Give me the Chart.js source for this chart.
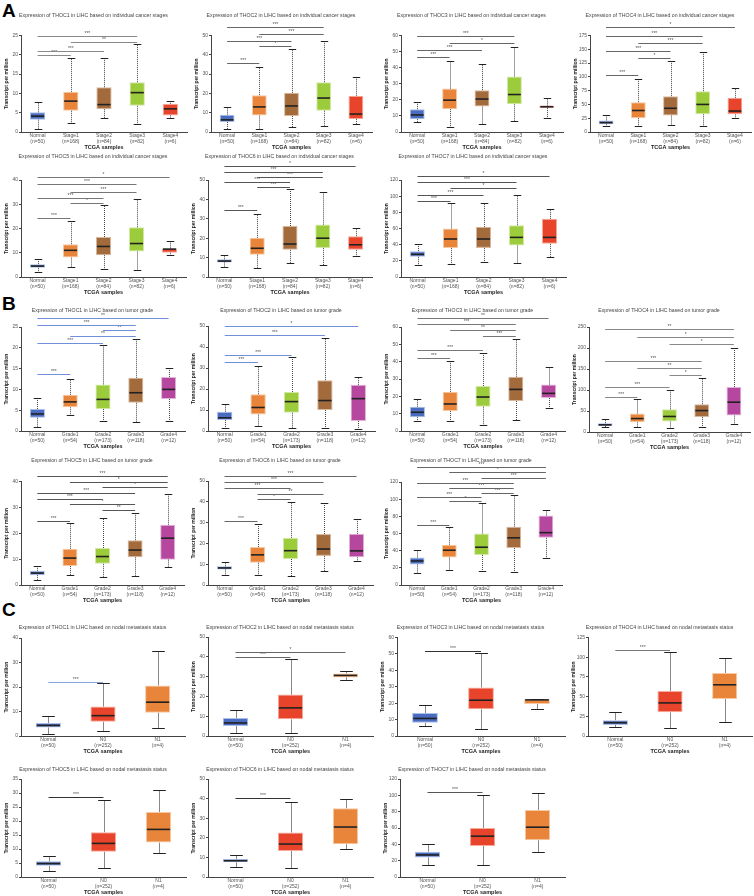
<!DOCTYPE html>
<html lang="en">
<head>
<meta charset="UTF-8">
<title>THOC expression in LIHC</title>
<script src="https://cdn.jsdelivr.net/npm/chart.js@4.4.1/dist/chart.umd.min.js"></script>
<style>
  body { margin: 0; background: #fff; }
  #page { position: relative; width: 754px; height: 896px; overflow: hidden; }
  #page canvas { position: absolute; }
  .tag { position: absolute; font: bold 19px 'Liberation Sans', Arial, sans-serif; line-height: 19px; color: #000; }
</style>
</head>
<body>
<div id="page">
  <div class="tag" style="left:2px;top:1px">A</div>
  <div class="tag" style="left:2px;top:294px">B</div>
  <div class="tag" style="left:2px;top:600px">C</div>
</div>
<script>
// ---- data ----
const genes = ['THOC1', 'THOC2', 'THOC3', 'THOC4', 'THOC5', 'THOC6', 'THOC7'];

// A: individual cancer stages
const stageLabels = [['Normal', '(n=50)'], ['Stage1', '(n=168)'], ['Stage2', '(n=84)'], ['Stage3', '(n=82)'], ['Stage4', '(n=6)']];
const stageYMax = [25, 50, 60, 175, 40, 50, 120];
const stageYStep = [5, 10, 10, 25, 10, 10, 20];
const stageMin = [
  [0.9, 2.3, 3.5, 2.2, 3.5],
  [1.5, 1.5, 2.4, 3.2, 4.0],
  [6.0, 3.2, 5.0, 6.8, 8.5],
  [11, 10, 13, 10, 25],
  [2.0, 4.0, 3.5, 3.0, 9.0],
  [5.0, 4.5, 7.2, 6.0, 11.0],
  [15, 16, 18, 17, 25]
];
const stageQ1 = [
  [3.2, 5.5, 5.9, 6.8, 4.3],
  [5.2, 8.5, 8.3, 11.0, 6.8],
  [8.0, 14.2, 15.8, 17.2, 15.0],
  [14, 25, 30, 32, 32],
  [3.8, 8.0, 9.0, 10.5, 10.0],
  [7.5, 11.5, 14.0, 15.0, 14.0],
  [25, 36, 36, 39, 41]
];
const stageMedian = [
  [4.1, 8.0, 7.1, 10.2, 6.0],
  [6.3, 13.0, 13.5, 17.6, 9.3],
  [10.6, 19.8, 20.5, 23.3, 15.7],
  [17, 39, 43, 50, 38],
  [4.5, 11.0, 12.6, 13.8, 11.5],
  [8.2, 14.8, 17.0, 20.0, 16.6],
  [28, 47, 47, 49, 49]
];
const stageQ3 = [
  [5.1, 10.4, 11.6, 12.9, 7.3],
  [9.0, 19.1, 20.3, 25.8, 18.8],
  [14.2, 27.0, 26.0, 34.5, 16.4],
  [21, 54, 65, 74, 62],
  [5.3, 13.5, 16.5, 20.5, 11.8],
  [9.1, 20.2, 26.3, 27.0, 21.0],
  [32, 60, 62, 64, 72]
];
const stageMax = [
  [7.9, 19.1, 19.3, 22.9, 8.1],
  [13.0, 33.6, 42.8, 47.1, 28.7],
  [18.8, 44.3, 42.3, 52.6, 21.0],
  [30, 97, 128, 145, 80],
  [7.3, 23.2, 29.8, 32.3, 14.8],
  [11.2, 32.6, 45.5, 43.6, 25.4],
  [40.5, 91.5, 91.5, 102, 84]
];
// [from group, to group, value, label]
const stageSig = [
  [[0, 1, 19.9, '***'], [0, 2, 21.0, '***'], [1, 3, 23.3, '**'], [0, 3, 24.8, '***']],
  [[0, 1, 35.5, '***'], [1, 2, 44.6, '*'], [0, 2, 47.2, '***'], [1, 3, 51.0, '***'], [0, 3, 54.4, '***']],
  [[0, 1, 46.8, '***'], [0, 2, 51.0, '***'], [1, 3, 55.6, '*'], [0, 3, 60.0, '***']],
  [[0, 1, 103, '***'], [1, 2, 133.5, '*'], [0, 2, 147, '***'], [1, 3, 161, '***'], [0, 3, 175, '***'], [0, 4, 189.6, '*']],
  [[0, 1, 24.3, '***'], [1, 2, 30.6, '*'], [0, 2, 32.7, '***'], [1, 3, 35.2, '***'], [0, 3, 38.2, '***'], [0, 4, 41.4, '*']],
  [[0, 1, 34.7, '***'], [1, 2, 46.6, '***'], [0, 2, 49.1, '***'], [1, 3, 51.7, '***'], [0, 3, 54.3, '***'], [0, 4, 57.2, '*']],
  [[0, 1, 94.4, '***'], [0, 2, 101, '***'], [1, 3, 109.7, '*'], [0, 3, 117, '***'], [0, 4, 125, '*']]
];

// B: tumor grade
const gradeLabels = [['Normal', '(n=50)'], ['Grade1', '(n=54)'], ['Grade2', '(n=173)'], ['Grade3', '(n=118)'], ['Grade4', '(n=12)']];
const gradeYMax = [25, 50, 60, 250, 40, 50, 120];
const gradeYStep = [5, 10, 10, 50, 10, 10, 20];
const gradeMin = [
  [0.9, 3.8, 2.3, 2.1, 2.3],
  [1.3, 2.5, 1.2, 1.5, 1.0],
  [5.6, 5.6, 3.3, 6.5, 13.0],
  [11, 11, 10, 13, 20],
  [2.0, 4.0, 3.2, 3.6, 7.0],
  [5.0, 4.9, 4.5, 6.8, 11.7],
  [14, 18, 16, 15, 31]
];
const gradeQ1 = [
  [3.2, 5.7, 5.3, 6.8, 7.7],
  [5.2, 7.8, 8.7, 10.0, 4.8],
  [8.0, 11.6, 14.0, 17.3, 19.0],
  [14, 23, 25, 36, 39],
  [3.8, 7.3, 8.2, 10.7, 9.8],
  [7.5, 10.7, 12.5, 14.0, 13.3],
  [24, 32, 35, 43, 55]
];
const gradeMedian = [
  [4.1, 7.0, 7.6, 9.2, 10.0],
  [6.3, 11.2, 14.0, 14.5, 15.4],
  [10.8, 15.6, 19.6, 24.0, 21.7],
  [17, 32, 37, 51, 71],
  [4.6, 10.4, 11.0, 13.5, 18.1],
  [8.2, 14.5, 16.5, 17.3, 16.4],
  [28, 40.5, 44, 55, 61]
];
const gradeQ3 = [
  [5.3, 8.7, 11.2, 12.8, 13.0],
  [9.2, 17.5, 18.6, 24.2, 22.0],
  [14.0, 22.6, 26.0, 31.3, 26.8],
  [21, 44, 54, 66, 107],
  [5.5, 14.0, 14.3, 17.3, 23.3],
  [9.0, 18.3, 22.7, 24.5, 24.6],
  [32, 47, 60, 68, 81]
];
const gradeMax = [
  [7.9, 12.6, 20.6, 22.2, 15.2],
  [12.8, 30.8, 35.1, 44.3, 25.5],
  [18.7, 40.5, 45.0, 53.0, 36.8],
  [30, 78, 100, 128, 201],
  [7.4, 23.8, 26.0, 28.0, 35.2],
  [11.2, 29.5, 40.0, 39.3, 31.8],
  [41, 68, 95.5, 104.5, 87]
];
const gradeSig = [
  [[0, 1, 13.7, '***'], [0, 2, 21.2, '***'], [1, 3, 22.9, '**'], [2, 3, 24.2, '**'], [0, 3, 25.6, '***'], [0, 4, 27.1, '**']],
  [[0, 1, 32.7, '***'], [0, 2, 36.3, '***'], [0, 3, 45.9, '***'], [0, 4, 49.8, '*']],
  [[0, 1, 42.1, '***'], [0, 2, 46.9, '***'], [2, 3, 54.8, '***'], [1, 3, 58.1, '**'], [0, 3, 61.8, '***'], [0, 4, 65.3, '**']],
  [[0, 1, 83.9, '***'], [0, 2, 106, '***'], [2, 3, 135, '*'], [1, 3, 151.8, '**'], [0, 3, 169.3, '***'], [2, 4, 208.5, '*'], [1, 4, 226, '*'], [0, 4, 245, '**']],
  [[0, 1, 24.7, '***'], [2, 3, 29.0, '**'], [1, 3, 31.2, '*'], [0, 2, 33.1, '***'], [0, 3, 35.5, '***'], [2, 4, 37.7, '*'], [1, 4, 40.0, '*'], [0, 4, 42.2, '***']],
  [[0, 1, 30.9, '***'], [1, 2, 41.3, '*'], [1, 3, 43.9, '**'], [0, 2, 46.8, '***'], [0, 3, 49.5, '***'], [0, 4, 52.2, '***']],
  [[0, 1, 70.3, '***'], [1, 2, 97.9, '*'], [0, 2, 102.5, '***'], [2, 3, 107.2, '***'], [1, 3, 112.6, '***'], [0, 3, 118.8, '***'], [2, 4, 125, '***'], [1, 4, 131.7, '*'], [0, 4, 137.5, '***']]
];

// C: nodal metastasis status
const nodalLabels = [['Normal', '(n=50)'], ['N0', '(n=252)'], ['N1', '(n=4)']];
const nodalYMax = [40, 50, 60, 125, 35, 50, 120];
const nodalYStep = [10, 10, 10, 25, 5, 10, 20];
const nodalMin = [
  [0.8, 2.1, 3.3],
  [1.3, 1.3, 28.5],
  [5.8, 4.5, 16.7],
  [11, 10, 18],
  [2.2, 3.2, 8.4],
  [5.0, 4.5, 14.2],
  [15, 15, 31]
];
const nodalQ1 = [
  [3.5, 5.8, 9.5],
  [5.1, 8.4, 29.6],
  [8.0, 16.3, 19.5],
  [14, 30, 47],
  [4.0, 9.0, 12.3],
  [7.5, 13.3, 16.7],
  [24, 38, 45]
];
const nodalMedian = [
  [4.3, 8.3, 13.8],
  [6.6, 14.2, 30.6],
  [10.7, 21.8, 22.0],
  [17, 42, 65],
  [4.8, 12.0, 17.0],
  [8.3, 16.8, 25.5],
  [27, 50, 61]
];
const nodalQ3 = [
  [5.3, 12.0, 20.6],
  [9.1, 20.9, 31.6],
  [14.0, 29.5, 22.4],
  [20, 57, 80],
  [5.6, 16.0, 23.2],
  [9.2, 22.7, 35.1],
  [31, 60, 82]
];
const nodalMax = [
  [8.0, 21.5, 34.5],
  [13.2, 38.7, 32.6],
  [18.7, 50.5, 22.5],
  [30, 106, 99],
  [7.5, 27.4, 31.0],
  [11.2, 38.5, 40.0],
  [40, 100, 103]
];
const nodalSig = [
  [[0, 1, 22.2, '***']],
  [[0, 1, 39.7, '***'], [0, 2, 42.4, '*']],
  [[0, 1, 51.9, '***']],
  [[0, 1, 109.7, '***']],
  [[0, 1, 28.5, '***']],
  [[0, 1, 40.1, '***']],
  [[0, 1, 104, '***']]
];

// ---- layout: [axis x, plot right, plot top, plot bottom, title y, bracket colour] ----
const stageLayout = [
  [21, 187, 35.5, 131.5, 16, '#8a8a8a'],
  [211, 372, 35.5, 131.5, 16, '#666'],
  [401, 563, 35.5, 131.5, 16, '#666'],
  [590, 751, 35.5, 131.5, 16, '#666'],
  [21, 186, 180, 277, 157, '#777'],
  [208, 372, 180, 277, 157, '#555'],
  [401, 566, 180, 277, 157, '#555']
];
const gradeLayout = [
  [21, 185, 327, 431, 311, '#6f8fd8'],
  [208, 375, 326, 431, 311, '#6f8fd8'],
  [401, 565, 327, 431, 311, '#777'],
  [589, 750, 327, 431.5, 311, '#888'],
  [21, 184, 481.5, 585, 460.5, '#555'],
  [208, 373, 481, 585, 460.5, '#666'],
  [401, 562, 482, 585, 460.5, '#666']
];
const nodalLayout = [
  [21, 185, 638, 735.5, 628, '#8aa4dc'],
  [208, 373, 637, 735.5, 628, '#666'],
  [397, 565, 637.5, 736, 628, '#333'],
  [588, 752, 637.5, 736, 628, '#777'],
  [21, 186, 779, 877, 769.5, '#333'],
  [208, 373, 779, 877, 769.5, '#333'],
  [400, 565, 779, 877, 769.5, '#555']
];

const BLUE = ['#4a6cc0', '#a9bde6'], ORANGE = ['#e8853a', '#f6c9a3'], BROWN = ['#a36a3c', '#d9b89c'];
const LIME = ['#9ccb3b', '#d3e8a4'], RED = ['#e8442b', '#f5aa9c'], MAGENTA = ['#b5479f', '#e2b2d8'];
const stageColors = [BLUE, ORANGE, BROWN, LIME, RED];
const gradeColors = [BLUE, ORANGE, LIME, BROWN, MAGENTA];
const nodalColors = [BLUE, RED, ORANGE];

const FONT = "'Liberation Sans', Arial, sans-serif";

// whiskers, medians and significance bars, placed through the chart's scales
const boxParts = {
  id: 'boxParts',
  afterDatasetsDraw(chart, args, o) {
    const ctx = chart.ctx, y = chart.scales.y;
    const bars = chart.getDatasetMeta(0).data;
    ctx.save();
    bars.forEach((bar, i) => {
      const x = Math.round(bar.x) + 0.5, half = bar.width / 2, cap = half / 2;
      const pMin = Math.round(y.getPixelForValue(o.min[i])) + 0.5;
      const pMax = Math.round(y.getPixelForValue(o.max[i])) + 0.5;
      const pQ1 = y.getPixelForValue(o.q1[i]), pQ3 = y.getPixelForValue(o.q3[i]);
      ctx.lineWidth = 1;
      ctx.strokeStyle = o.whiskerColor;
      ctx.setLineDash(o.whiskerDash);
      ctx.beginPath();
      ctx.moveTo(x, pQ3); ctx.lineTo(x, pMax);
      ctx.moveTo(x, pQ1); ctx.lineTo(x, pMin);
      ctx.stroke();
      ctx.setLineDash([]);
      ctx.strokeStyle = '#222';
      ctx.beginPath();
      ctx.moveTo(x - cap, pMax); ctx.lineTo(x + cap, pMax);
      ctx.moveTo(x - cap, pMin); ctx.lineTo(x + cap, pMin);
      ctx.stroke();
      const pMed = y.getPixelForValue(o.median[i]);
      ctx.lineWidth = 1.6;
      ctx.beginPath();
      ctx.moveTo(bar.x - half + 1, pMed); ctx.lineTo(bar.x + half - 1, pMed);
      ctx.stroke();
    });
    ctx.font = '5px ' + FONT;
    ctx.textAlign = 'center';
    ctx.textBaseline = 'bottom';
    o.sig.forEach(([a, b, v, label]) => {
      const x1 = bars[a].x, x2 = bars[b].x;
      const py = Math.round(y.getPixelForValue(v)) + 0.5;
      ctx.strokeStyle = o.bracketColor;
      ctx.lineWidth = 1;
      ctx.beginPath(); ctx.moveTo(x1, py); ctx.lineTo(x2, py); ctx.stroke();
      ctx.fillStyle = '#555';
      ctx.fillText(label, (x1 + x2) / 2, py - 0.5);
    });
    ctx.restore();
  }
};

function addPanel(geom, title, labels, colors, stats, yMax, yStep, sig, whisker) {
  const [axisX, plotRight, plotTop, plotBottom, titleY, bracketColor] = geom;
  const left = Math.round(axisX - 21), top = Math.round(titleY - 6);
  const w = Math.round(plotRight + 3 - left), h = Math.round(plotBottom - top + 19);
  const canvas = document.createElement('canvas');
  canvas.width = w; canvas.height = h;
  canvas.style.left = left + 'px'; canvas.style.top = top + 'px';
  canvas.style.width = w + 'px'; canvas.style.height = h + 'px';
  document.getElementById('page').appendChild(canvas);

  const titleSize = 5.2, titleLine = titleSize * 1.2;
  const padTop = (titleY - top) - titleLine / 2;
  const padBottom = (plotTop - top) - padTop - titleLine;
  const [mins, q1, med, q3, maxs] = stats;

  new Chart(canvas, {
    type: 'bar',
    data: {
      labels: labels,
      datasets: [{
        data: q1.map((v, i) => [v, q3[i]]),
        backgroundColor: colors.map(c => c[0]),
        borderColor: colors.map(c => c[1]),
        borderWidth: 1,
        borderSkipped: false,
        barPercentage: 0.46,
        categoryPercentage: 1
      }]
    },
    options: {
      responsive: false,
      animation: false,
      layout: { padding: { left: left - (axisX - 21), right: w - (plotRight - left), top: 0, bottom: 0 } },
      plugins: {
        legend: { display: false },
        tooltip: { enabled: false },
        title: {
          display: true, text: title, color: '#444',
          font: { size: titleSize, family: FONT, weight: 'normal' },
          padding: { top: padTop, bottom: padBottom }
        },
        boxParts: {
          min: mins, q1: q1, median: med, q3: q3, max: maxs, sig: sig,
          bracketColor: bracketColor, whiskerColor: whisker.color, whiskerDash: whisker.dash
        }
      },
      scales: {
        x: {
          grid: { display: false, drawTicks: false },
          border: { display: true, color: '#444', width: 1 },
          ticks: { color: '#555', font: { size: 5, family: FONT }, padding: 1, maxRotation: 0, autoSkip: false },
          title: { display: true, text: 'TCGA samples', color: '#222', font: { size: 5.5, weight: 'bold', family: FONT }, padding: { top: 0, bottom: 0.5 } },
          afterFit: s => { s.height = 19; }
        },
        y: {
          min: 0, max: yMax,
          ticks: { stepSize: yStep, color: '#555', font: { size: 5, family: FONT }, padding: 1 },
          grid: { drawOnChartArea: false, drawTicks: true, tickLength: 2, color: '#444' },
          border: { display: true, color: '#444', width: 1 },
          title: { display: true, text: 'Transcript per million', color: '#222', font: { size: 5, weight: 'bold', family: FONT }, padding: { top: 4, bottom: 0 } },
          afterFit: s => { s.width = 21; }
        }
      }
    },
    plugins: [boxParts]
  });
}

const dotted = { color: '#444', dash: [1, 1] };
const solid = { color: '#888', dash: [] };

genes.forEach((g, k) => {
  addPanel(stageLayout[k], 'Expression of ' + g + ' in LIHC based on individual cancer stages', stageLabels, stageColors,
    [stageMin[k], stageQ1[k], stageMedian[k], stageQ3[k], stageMax[k]], stageYMax[k], stageYStep[k], stageSig[k], dotted);
  addPanel(gradeLayout[k], 'Expression of ' + g + ' in LIHC based on tumor grade', gradeLabels, gradeColors,
    [gradeMin[k], gradeQ1[k], gradeMedian[k], gradeQ3[k], gradeMax[k]], gradeYMax[k], gradeYStep[k], gradeSig[k], dotted);
  addPanel(nodalLayout[k], 'Expression of ' + g + ' in LIHC based on nodal metastasis status', nodalLabels, nodalColors,
    [nodalMin[k], nodalQ1[k], nodalMedian[k], nodalQ3[k], nodalMax[k]], nodalYMax[k], nodalYStep[k], nodalSig[k], solid);
});
</script>
</body>
</html>
